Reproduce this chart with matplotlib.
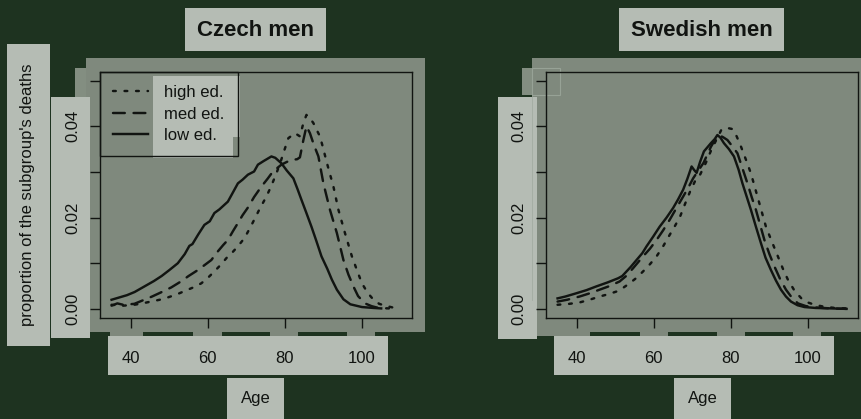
"""Age-at-death distributions by education, Czech vs Swedish men."""
import matplotlib.pyplot as plt
from matplotlib.patches import Rectangle

plt.rcParams.update({
    "font.family": ["Liberation Sans", "DejaVu Sans"],
    "font.size": 12,
    "lines.scale_dashes": False,
})

BG = "#1e3320"
PANEL = "#7f897d"
LIGHT = "#b5bcb4"
INK = "#111411"

# --- data: proportion of the subgroup's deaths by age -----------------------
cz_high_age = [35, 38, 40.9, 43, 45.2, 47.5, 49.6, 52, 54.8, 56.5, 58.3, 60,
               61.7, 63.5, 65.2, 66.5, 67.8, 69.5, 70.8, 72.2, 73.5, 75.2,
               76.5, 77.8, 78.8, 79.6, 80.9, 82.6, 83.9, 84.8, 85.6, 86.5,
               87.4, 88.2, 89.1, 90, 90.8, 92.6, 93.9, 95.6, 97.4, 98.7, 100,
               101.5, 103, 104.5, 106, 108, 110]
cz_high = [0.0009, 0.0007, 0.0009, 0.0012, 0.0016, 0.0020, 0.0025, 0.0032,
           0.0042, 0.0048, 0.0056, 0.0068, 0.0082, 0.0098, 0.0115, 0.0125,
           0.0137, 0.0155, 0.0175, 0.0198, 0.0220, 0.0246, 0.0270, 0.0297,
           0.0320, 0.0341, 0.0374, 0.0385, 0.0378, 0.0407, 0.0425, 0.0418,
           0.0407, 0.0393, 0.0378, 0.0350, 0.0323, 0.0268, 0.0217, 0.0166,
           0.0115, 0.0085, 0.0056, 0.0035, 0.0020, 0.0011, 0.0007, 0.0003,
           0.0001]

cz_med_age = [35, 36.5, 38, 40.9, 43.5, 45.5, 47.8, 50.5, 53, 55, 57.4, 59,
              60.9, 62.5, 64, 65.2, 66.5, 67.8, 69, 70.4, 72, 73.9, 75.5,
              76.9, 79.1, 80.5, 81.7, 83.2, 83.9, 84.8, 85.6, 86.5, 87.5,
              88.7, 90, 91.7, 93.5, 95.2, 96.5, 97.8, 99, 100.8, 102.5,
              104.3, 107]
cz_med = [0.0007, 0.0012, 0.0009, 0.0011, 0.0020, 0.0027, 0.0036, 0.0047,
          0.0060, 0.0072, 0.0085, 0.0095, 0.0107, 0.0125, 0.0140, 0.0151,
          0.0170, 0.0188, 0.0205, 0.0222, 0.0245, 0.0268, 0.0285, 0.0301,
          0.0316, 0.0322, 0.0326, 0.0328, 0.0332, 0.0370, 0.0400, 0.0385,
          0.0360, 0.0334, 0.0275, 0.0217, 0.0166, 0.0107, 0.0075, 0.0049,
          0.0028, 0.0012, 0.0006, 0.0002, 0.0001]

cz_low_age = [35, 37, 39, 41, 43.5, 46, 48, 50, 52.2, 54, 55.2, 56, 57.5,
              59.1, 60.5, 61.7, 63, 65.2, 66.5, 67.8, 69, 70.4, 72, 73, 74.5,
              76.5, 77.5, 79.1, 80.5, 82.2, 83.3, 84.3, 85.5, 86.9, 88.2,
              89.5, 91, 92.2, 93.5, 95.2, 97, 100, 103, 105]
cz_low = [0.0020, 0.0025, 0.0030, 0.0037, 0.0049, 0.0061, 0.0072, 0.0085,
          0.0100, 0.0120, 0.0138, 0.0142, 0.0163, 0.0184, 0.0192, 0.0210,
          0.0218, 0.0235, 0.0255, 0.0275, 0.0283, 0.0294, 0.0301, 0.0316,
          0.0324, 0.0334, 0.0331, 0.0319, 0.0303, 0.0286, 0.0262, 0.0239,
          0.0212, 0.0180, 0.0148, 0.0115, 0.0088, 0.0064, 0.0042, 0.0021,
          0.0010, 0.0004, 0.0002, 0.0001]

se_high_age = [35, 38, 40.7, 43.3, 45.9, 48.1, 50.3, 52, 53.7, 55.5, 57.2,
               59, 60.7, 62.4, 64.1, 65.5, 66.8, 68.1, 69.4, 70.7, 72, 73.5,
               75, 76.5, 77.5, 78.2, 79.3, 80.4, 81.5, 82.6, 83.9, 85.2,
               86.9, 88, 89.1, 90.7, 92.2, 93.5, 94.8, 96.5, 98.3, 100,
               101.7, 104, 107, 110]
se_high = [0.0009, 0.0011, 0.0014, 0.0020, 0.0027, 0.0032, 0.0038, 0.0046,
           0.0056, 0.0068, 0.0082, 0.0098, 0.0115, 0.0137, 0.0162, 0.0182,
           0.0202, 0.0230, 0.0257, 0.0280, 0.0294, 0.0320, 0.0350, 0.0375,
           0.0392, 0.0396, 0.0396, 0.0394, 0.0378, 0.0356, 0.0327, 0.0297,
           0.0246, 0.0213, 0.0180, 0.0146, 0.0115, 0.0088, 0.0064, 0.0040,
           0.0023, 0.0014, 0.0009, 0.0005, 0.0002, 0.0001]

se_med_age = [35, 37.5, 40.7, 43.3, 45.9, 48.5, 51.1, 52.8, 54.6, 55.9, 57.2,
              59, 60.7, 62.4, 64.1, 65.8, 67.6, 68.9, 70.2, 71.3, 72.9, 74.8,
              76, 76.9, 78, 79.1, 80.4, 81.7, 83, 84.3, 85.4, 86.5, 87.6,
              88.7, 90, 91.3, 92.8, 94.3, 95.8, 97.4, 99.5, 102, 106, 110]
se_med = [0.0016, 0.0020, 0.0027, 0.0034, 0.0042, 0.0050, 0.0060, 0.0072,
          0.0089, 0.0102, 0.0115, 0.0132, 0.0151, 0.0172, 0.0195, 0.0220,
          0.0246, 0.0265, 0.0286, 0.0300, 0.0320, 0.0355, 0.0372, 0.0381,
          0.0376, 0.0370, 0.0356, 0.0341, 0.0308, 0.0275, 0.0245, 0.0217,
          0.0184, 0.0151, 0.0120, 0.0093, 0.0065, 0.0042, 0.0025, 0.0012,
          0.0006, 0.0003, 0.0001, 0.0]

se_low_age = [35, 37, 39.8, 42.5, 45, 48, 50.7, 51.8, 52.9, 54, 55.5, 57,
              58.1, 59.8, 61.5, 63.3, 65, 66.3, 67.6, 68.7, 69.8, 70.4, 71.1,
              72, 73, 74.8, 75.8, 76.5, 77.3, 78.2, 79.5, 80.8, 82, 83, 84.1,
              85.2, 86.5, 87.8, 89, 90.4, 91.7, 93, 94.3, 95.6, 97.3, 99.1,
              102, 106, 110]
se_low = [0.0023, 0.0027, 0.0034, 0.0041, 0.0049, 0.0058, 0.0067, 0.0072,
          0.0082, 0.0092, 0.0107, 0.0122, 0.0137, 0.0158, 0.0180, 0.0200,
          0.0221, 0.0240, 0.0261, 0.0285, 0.0312, 0.0305, 0.0298, 0.0322,
          0.0345, 0.0363, 0.0372, 0.0381, 0.0375, 0.0363, 0.0350, 0.0334,
          0.0305, 0.0275, 0.0246, 0.0217, 0.0180, 0.0144, 0.0112, 0.0085,
          0.0062, 0.0042, 0.0027, 0.0016, 0.0008, 0.0004, 0.0002, 0.0001,
          0.0]

x_ticks = [40, 60, 80, 100]
y_ticks = [0.00, 0.01, 0.02, 0.03, 0.04, 0.05]
y_ticklabels = ["0.00", "", "0.02", "", "0.04", ""]
legend_labels = ["high ed.", "med ed.", "low ed."]

# --- canvas in pixel coordinates ---------------------------------------------
W, H = 862, 419
fig = plt.figure(figsize=(W / 100, H / 100), dpi=100, facecolor=BG)
bg = fig.add_axes([0, 0, 1, 1], zorder=0)
bg.set_xlim(0, W)
bg.set_ylim(H, 0)
bg.axis("off")


def box(x0, y0, x1, y1, color=LIGHT, **kw):
    bg.add_patch(Rectangle((x0, y0), x1 - x0, y1 - y0, facecolor=color,
                           edgecolor="none", **kw))


def label(x, y, s, **kw):
    bg.text(x, y, s, ha="center", va="center", color=INK, **kw)


STYLES = [
    dict(ls=(0, (2.0, 6.3)), dash_capstyle="round"),   # high ed.
    dict(ls=(0, (8.5, 6.3)), dash_capstyle="round"),   # med ed.
    dict(ls="-"),                                      # low ed.
]


def panel(x0, x1, series, legend=False):
    y0, y1 = 72, 318
    ax = fig.add_axes([x0 / W, 1 - y1 / H, (x1 - x0) / W, (y1 - y0) / H],
                      zorder=1)
    ax.set_facecolor("none")
    handles = []
    for (age, val), st, lab in zip(series, STYLES, legend_labels):
        h, = ax.plot(age, val, color=INK, lw=1.75, label=lab, **st)
        handles.append(h)
    ax.set_xlim(32, 113)
    ax.set_ylim(-0.002, 0.0519)
    ax.set_xticks(x_ticks, [str(t) for t in x_ticks])
    ax.set_yticks(y_ticks, y_ticklabels)
    for sp in ax.spines.values():
        sp.set_linewidth(1.0)
        sp.set_color(INK)
    ax.tick_params(length=7.5, width=1.0, color=INK, labelcolor=INK,
                   labelsize=12)
    ax.tick_params(axis="x", pad=16)
    ax.tick_params(axis="y", labelrotation=90, pad=6.5)
    for t in ax.get_yticklabels():
        t.set_va("center")
    if legend:
        leg = ax.legend(handles=handles, loc="upper left", borderaxespad=0,
                        fancybox=False, edgecolor=INK, facecolor="none",
                        framealpha=1, fontsize=12, handlelength=2.1,
                        handletextpad=0.95, borderpad=0.8,
                        labelspacing=0.38)
        leg.get_frame().set_linewidth(1.0)
        for t in leg.get_texts():
            t.set_color(INK)
    return ax


# left panel backdrop: Czech men
box(86, 58, 425, 331.7, PANEL)
box(75, 68, 86, 97, "#838e81")
for a, b in [(110, 143), (193, 222), (270, 298), (347, 375)]:
    box(a, 331.5, b, 336, PANEL)
box(51, 97, 90, 338)
box(7, 44, 50, 346)
box(185, 8, 326, 51)
box(107.7, 335.7, 387.7, 375)
box(227, 378, 284, 420)
box(153, 76, 240, 137)
box(153, 137, 233, 158)
label(255.5, 30, "Czech men", fontsize=16, fontweight="bold")
label(255.5, 398, "Age")
label(28, 195, "proportion of the subgroup's deaths", rotation=90)

# right panel backdrop: Swedish men
box(532, 58, 862, 331.7, PANEL)
box(522, 68, 532, 95, "#838e81")
for a, b in [(537, 590), (640, 668), (717, 745), (793, 821)]:
    box(a, 331.5, b, 336, PANEL)
box(498, 97, 537, 339)
box(619, 8, 784, 51)
box(554, 335.7, 834, 375)
box(674, 378, 731, 420)
bg.add_patch(Rectangle((532.5, 67.7), 27.5, 27.3, facecolor="none",
                       edgecolor="#97a296", lw=0.8))
bg.plot([532.5, 532.5], [95, 300], color="#97a296", lw=0.6, alpha=0.6)
label(701.5, 30, "Swedish men", fontsize=16, fontweight="bold")
label(702.5, 398, "Age")

panel(100, 412, [(cz_high_age, cz_high), (cz_med_age, cz_med),
                 (cz_low_age, cz_low)], legend=True)
panel(546, 858, [(se_high_age, se_high), (se_med_age, se_med),
                 (se_low_age, se_low)])

fig.savefig("out.png", dpi=100, facecolor=BG)
